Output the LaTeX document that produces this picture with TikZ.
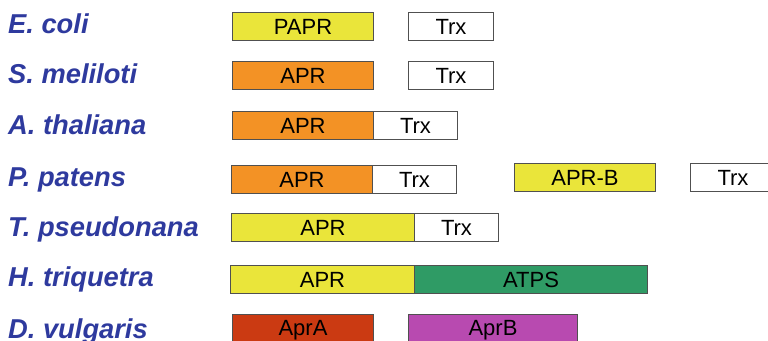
\documentclass[tikz,border=0pt]{standalone}
\usepackage{fontspec}
\setmainfont{Liberation Sans}
\begin{document}
\begin{tikzpicture}[x=1pt,y=-1pt,
  species/.style={anchor=base west,inner sep=0pt,text=labelblue,
    font=\fontsize{27.3}{30}\selectfont\bfseries\itshape},
  gene/.style={draw=boxline,line width=1pt,anchor=north west,inner sep=0pt,
    minimum height=28pt,font=\fontsize{22}{24}\selectfont,text=black},
]
\definecolor{labelblue}{HTML}{2E3A9E}
\definecolor{boxline}{HTML}{505050}
\definecolor{genyellow}{HTML}{EAE53A}
\definecolor{genorange}{HTML}{F39225}
\definecolor{gengreen}{HTML}{2F9B65}
\definecolor{genred}{HTML}{CB3A12}
\definecolor{genmagenta}{HTML}{B84AB0}
\useasboundingbox (0,0) rectangle (768,340);
\clip (0,0) rectangle (768,340);

% species names
\node[species] (l1) at (8,33) {E. coli};
\node[species] (l2) at (8,83) {S. meliloti};
\node[species] (l3) at (8,134) {A. thaliana};
\node[species] (l4) at (8,186) {P. patens};
\node[species] (l5) at (8,236) {T. pseudonana};
\node[species] (l6) at (8,286) {H. triquetra};
\node[species] (l7) at (8,338) {D. vulgaris};

% E. coli
\node[gene,fill=genyellow,minimum width=141pt] (r1a) at (232,12) {PAPR};
\node[gene,fill=white,minimum width=85pt] (r1b) at (408,12) {Trx};
% S. meliloti
\node[gene,fill=genorange,minimum width=141pt] (r2a) at (232,61) {APR};
\node[gene,fill=white,minimum width=85pt] (r2b) at (408,61) {Trx};
% A. thaliana
\node[gene,fill=genorange,minimum width=141pt] (r3a) at (232,111) {APR};
\node[gene,fill=white,minimum width=84pt] (r3b) at (373,111) {Trx};
% P. patens
\node[gene,fill=genorange,minimum width=141pt] (r4a) at (231,165) {APR};
\node[gene,fill=white,minimum width=84pt] (r4b) at (372,165) {Trx};
\node[gene,fill=genyellow,minimum width=141pt] (r4c) at (514,163) {APR-B};
\node[gene,fill=white,minimum width=85pt] (r4d) at (690,163) {Trx};
% T. pseudonana
\node[gene,fill=genyellow,minimum width=183pt] (r5a) at (231,213) {APR};
\node[gene,fill=white,minimum width=84pt] (r5b) at (414,213) {Trx};
% H. triquetra
\node[gene,fill=genyellow,minimum width=184pt] (r6a) at (230,265) {APR};
\node[gene,fill=gengreen,minimum width=233pt] (r6b) at (414,265) {ATPS};
% D. vulgaris (boxes run past the lower edge)
\node[gene,fill=genred,minimum width=141pt,minimum height=31pt] (r7a) at (232,314) {AprA};
\node[gene,fill=genmagenta,minimum width=169pt,minimum height=31pt] (r7b) at (408,314) {AprB};
\end{tikzpicture}
\end{document}
